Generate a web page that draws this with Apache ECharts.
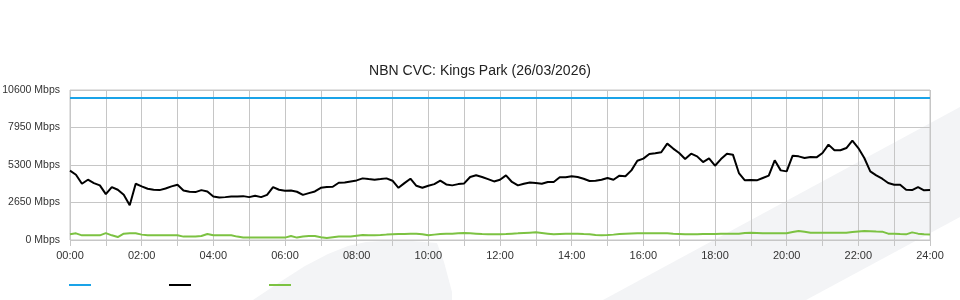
<!DOCTYPE html>
<html><head><meta charset="utf-8">
<script src="https://cdn.jsdelivr.net/npm/echarts@6/dist/echarts.min.js"></script>
<style>html,body{margin:0;padding:0;background:#fff}#c{width:960px;height:300px}</style>
</head><body><div id="c"></div>
<script>
// 10-minute samples, 00:00 .. 24:00 (145 points)
const TITLE = 'NBN CVC: Kings Park (26/03/2026)';
const CAPACITY = 10050; // Mbps
const yTicks = [0, 2650, 5300, 7950, 10600];
const seriesNames = ['Capacity', 'Download', 'Upload'];

const download = [
  4900,4610,3975,4260,4020,3860,3240,3740,3550,3190,2450,3975,
  3790,3620,3550,3525,3640,3790,3900,3500,3410,3385,3525,3430,
  3075,3000,3030,3075,3075,3100,3030,3120,3030,3190,3740,3550,
  3480,3500,3410,3190,3310,3430,3690,3740,3760,4045,4070,4140,
  4210,4355,4305,4260,4305,4355,4190,3690,4020,4330,3830,3690,
  3830,3950,4190,3925,3860,3950,4000,4450,4570,4450,4305,4140,
  4260,4570,4100,3860,3980,4070,4025,3980,4100,4100,4430,4430,
  4500,4450,4330,4170,4190,4260,4380,4260,4545,4500,4920,5600,
  5750,6080,6125,6200,6810,6460,6150,5725,6100,5910,5510,5770,
  5250,5720,6100,6030,4730,4215,4240,4215,4380,4545,5630,4920,
  4850,5960,5910,5795,5870,5840,6150,6740,6340,6340,6500,7020,
  6500,5795,4850,4570,4330,4025,3910,3910,3550,3530,3740,3510,
  3530
];
const upload = [
  400,470,330,330,330,330,490,330,210,450,470,470,
  380,330,330,330,330,330,330,240,240,240,280,420,
  330,330,330,330,240,170,170,170,170,170,170,170,
  170,280,170,240,280,280,200,140,190,240,240,240,
  300,350,330,330,350,380,400,420,420,450,450,400,
  330,380,420,440,450,470,490,470,450,420,400,400,
  400,420,450,470,500,520,540,500,450,400,420,440,
  450,450,420,400,360,330,350,380,420,450,460,470,
  470,470,470,470,470,440,420,400,400,410,420,420,
  430,440,440,450,450,500,520,500,480,470,470,470,
  470,560,640,580,520,520,520,520,520,520,520,560,
  600,640,620,600,590,450,450,420,400,540,450,400,
  380
];

const times = [];
for (let i = 0; i < download.length; i++) {
  const m = i * 10;
  times.push(String(Math.floor(m / 60)).padStart(2, '0') + ':' + String(m % 60).padStart(2, '0'));
}

const FONT = 'Liberation Sans';
const GRID_C = '#c6c6c6';
const COLORS = ['#1aa3e8', '#000000', '#7cc242'];

const chart = echarts.init(document.getElementById('c'), null, {renderer: 'canvas'});
chart.setOption({
  animation: false,
  backgroundColor: '#fff',
  graphic: [
    {type: 'polygon', z: -10, silent: true,
     shape: {points: [[603,300],[960,107],[960,217],[806,300]]},
     style: {fill: '#f3f4f6'}},
    {type: 'polygon', z: -10, silent: true,
     shape: {points: [[253,300],[280,282],[305,266],[328,254],[348,246],[366,242],[400,240],[437,243],[444,262],[452,292],[452,300]]},
     style: {fill: '#f3f4f6'}}
  ],
  title: {
    text: TITLE, left: 'center', top: 59,
    textStyle: {fontFamily: FONT, fontSize: 14, fontWeight: 'normal', color: '#222'}
  },
  legend: seriesNames.map((n, i) => ({
    data: [n], left: 69 + i * 100, top: 284, padding: 0,
    icon: 'rect', itemWidth: 22, itemHeight: 2,
    formatter: () => '', textStyle: {fontSize: 12}, selectedMode: false
  })),
  grid: {left: 70, right: 30, top: 90, height: 150, show: true, borderColor: GRID_C, borderWidth: 1,
         containLabel: false, outerBoundsMode: 'none'},
  xAxis: {
    type: 'category', data: times, boundaryGap: false,
    axisLine: {show: false},
    axisTick: {show: true, interval: 5, length: 6, lineStyle: {color: GRID_C}},
    splitLine: {show: true, interval: 5, lineStyle: {color: GRID_C, width: 1}},
    axisLabel: {interval: 11, margin: 10, fontFamily: FONT, fontSize: 11, color: '#333',
      alignMinLabel: 'center', alignMaxLabel: 'center',
      formatter: (v, idx) => idx === times.length - 1 ? '24:00' : v}
  },
  yAxis: {
    type: 'value', min: yTicks[0], max: yTicks[yTicks.length - 1], interval: yTicks[1] - yTicks[0],
    axisLine: {show: false}, axisTick: {show: false},
    splitLine: {show: true, lineStyle: {color: GRID_C, width: 1}},
    axisLabel: {margin: 10, fontFamily: FONT, fontSize: 10.5, color: '#333',
      formatter: (v) => v + ' Mbps', padding: [0,0,4,0]}
  },
  series: [
    {name: seriesNames[0], type: 'line', data: [], color: COLORS[0],
     lineStyle: {color: COLORS[0], width: 2},
     markLine: {silent: true, symbol: ['none','none'], label: {show: false},
       lineStyle: {color: COLORS[0], width: 2, type: 'solid'}, data: [{yAxis: CAPACITY}]}},
    {name: seriesNames[1], type: 'line', data: download, color: COLORS[1], showSymbol: false,
     lineStyle: {width: 2, color: COLORS[1]}, z: 4},
    {name: seriesNames[2], type: 'line', data: upload, color: COLORS[2], showSymbol: false,
     lineStyle: {width: 2, color: COLORS[2]}, z: 3}
  ]
});
</script></body></html>
